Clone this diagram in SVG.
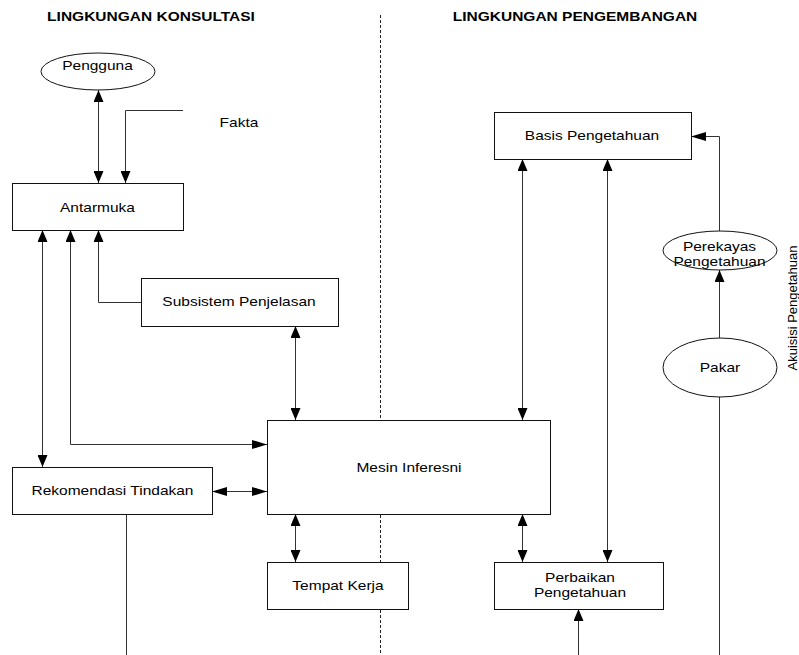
<svg xmlns="http://www.w3.org/2000/svg" width="799" height="655" viewBox="0 0 799 655">
<style>
  text { font-family: "Liberation Sans", Arial, sans-serif; font-size: 12.5px; fill: #000; text-anchor: middle; }
  .title { font-weight: bold; }
  .s { transform: scale(1.24, 1); }
  .box { fill: #fff; stroke: #111; stroke-width: 1; }
  .conn { fill: none; stroke: #333; stroke-width: 1; }
  .div { fill: none; stroke: #222; stroke-width: 1; stroke-dasharray: 3,2; }
</style>
<defs>
  <marker id="av" markerUnits="userSpaceOnUse" markerWidth="12" markerHeight="10" refX="12" refY="5" orient="auto-start-reverse" viewBox="0 0 12 10">
    <path d="M0,0 L12,5 L0,10 z" fill="#000"/>
  </marker>
  <marker id="ah" markerUnits="userSpaceOnUse" markerWidth="15" markerHeight="9" refX="15" refY="4.5" orient="auto-start-reverse" viewBox="0 0 15 9">
    <path d="M0,0 L15,4.5 L0,9 z" fill="#000"/>
  </marker>
</defs>
<rect width="799" height="655" fill="#fff"/>

<g id="titles">
  <g transform="translate(151 21)"><text class="title s">LINGKUNGAN KONSULTASI</text></g>
  <g transform="translate(575 21)"><text class="title s">LINGKUNGAN PENGEMBANGAN</text></g>
</g>

<line class="div" x1="380.5" y1="15" x2="380.5" y2="655"/>

<g id="connectors">
  <line class="conn" x1="98.5" y1="90" x2="98.5" y2="183" marker-start="url(#av)" marker-end="url(#av)"/>
  <path class="conn" d="M183,110.5 H125.5 V183" marker-end="url(#av)"/>
  <line class="conn" x1="42.5" y1="230" x2="42.5" y2="467" marker-start="url(#av)" marker-end="url(#av)"/>
  <path class="conn" d="M70.5,230 V444.5 H267" marker-start="url(#av)" marker-end="url(#ah)"/>
  <path class="conn" d="M141,302.5 H98.5 V230" marker-end="url(#av)"/>
  <line class="conn" x1="295.5" y1="326" x2="295.5" y2="420" marker-start="url(#av)" marker-end="url(#av)"/>
  <line class="conn" x1="212" y1="491.5" x2="267" y2="491.5" marker-start="url(#ah)" marker-end="url(#ah)"/>
  <line class="conn" x1="295.5" y1="514" x2="295.5" y2="562" marker-start="url(#av)" marker-end="url(#av)"/>
  <line class="conn" x1="126.5" y1="514" x2="126.5" y2="655"/>
  <line class="conn" x1="522.5" y1="159" x2="522.5" y2="420" marker-start="url(#av)" marker-end="url(#av)"/>
  <line class="conn" x1="607.5" y1="159" x2="607.5" y2="562" marker-start="url(#av)" marker-end="url(#av)"/>
  <line class="conn" x1="522.5" y1="514" x2="522.5" y2="562" marker-start="url(#av)" marker-end="url(#av)"/>
  <line class="conn" x1="578.5" y1="655" x2="578.5" y2="609" marker-end="url(#av)"/>
  <path class="conn" d="M719.5,231 V136.5 H691" marker-end="url(#ah)"/>
  <line class="conn" x1="719.5" y1="338" x2="719.5" y2="270" marker-end="url(#av)"/>
  <line class="conn" x1="719.5" y1="397" x2="719.5" y2="655"/>
</g>

<g id="pengguna">
  <ellipse class="box" cx="98" cy="71.5" rx="57" ry="18.5"/>
  <g transform="translate(97.5 70)"><text class="s">Pengguna</text></g>
</g>
<g id="fakta">
  <g transform="translate(239 127)"><text class="s">Fakta</text></g>
</g>
<g id="antarmuka">
  <rect class="box" x="12.5" y="183.5" width="171" height="47"/>
  <g transform="translate(97.5 212)"><text class="s">Antarmuka</text></g>
</g>
<g id="subsistem">
  <rect class="box" x="141.5" y="278.5" width="197" height="48"/>
  <g transform="translate(239 306)"><text class="s">Subsistem Penjelasan</text></g>
</g>
<g id="mesin">
  <rect class="box" x="267.5" y="420.5" width="283" height="94"/>
  <g transform="translate(409 472)"><text class="s">Mesin Inferesni</text></g>
</g>
<g id="rekomendasi">
  <rect class="box" x="12.5" y="467.5" width="200" height="47"/>
  <g transform="translate(112.5 495)"><text class="s">Rekomendasi Tindakan</text></g>
</g>
<g id="tempat">
  <rect class="box" x="267.5" y="562.5" width="141" height="47"/>
  <g transform="translate(338 590)"><text class="s">Tempat Kerja</text></g>
</g>
<g id="basis">
  <rect class="box" x="494.5" y="112.5" width="197" height="47"/>
  <g transform="translate(592 140)"><text class="s">Basis Pengetahuan</text></g>
</g>
<g id="perbaikan">
  <rect class="box" x="494.5" y="562.5" width="169" height="47"/>
  <g transform="translate(580 582)"><text class="s">Perbaikan</text></g>
  <g transform="translate(580 597)"><text class="s">Pengetahuan</text></g>
</g>
<g id="perekayas">
  <ellipse class="box" cx="720" cy="250.5" rx="57" ry="19.5"/>
  <g transform="translate(719.5 251)"><text class="s">Perekayas</text></g>
  <g transform="translate(719.5 265.5)"><text class="s">Pengetahuan</text></g>
</g>
<g id="pakar">
  <ellipse class="box" cx="720" cy="367.5" rx="57" ry="29.5"/>
  <g transform="translate(720 372)"><text class="s">Pakar</text></g>
</g>
<g id="akuisisi">
  <g transform="translate(797 308) rotate(-90)"><text style="font-size:13px">Akuisisi Pengetahuan</text></g>
</g>
</svg>
